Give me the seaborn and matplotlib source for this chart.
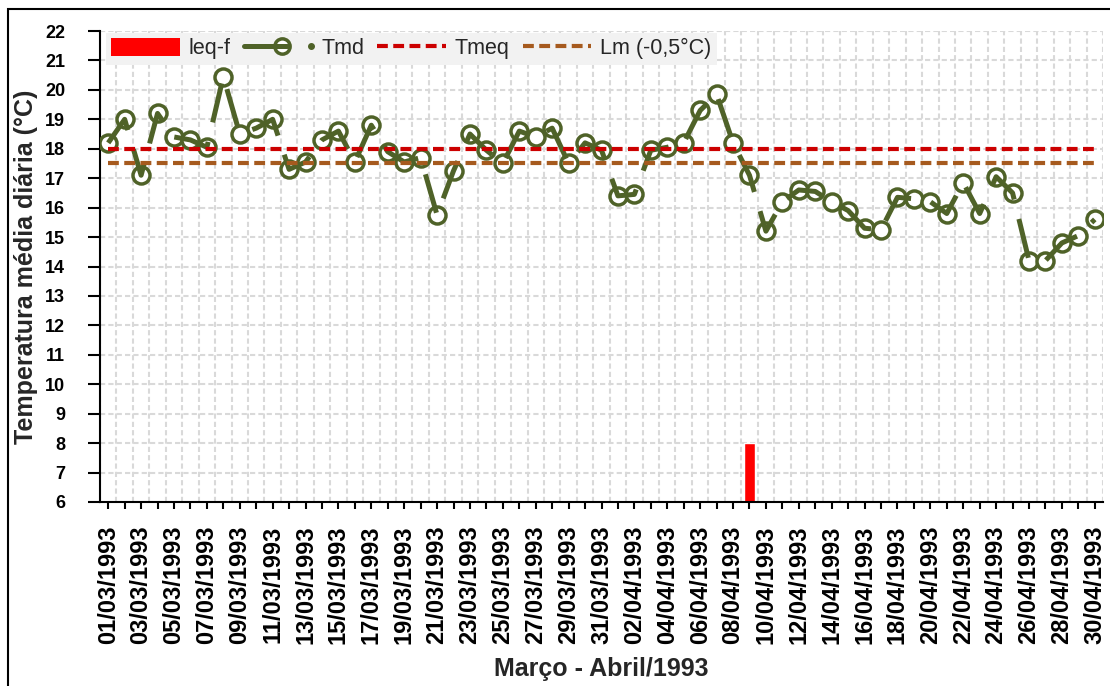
import numpy as np
import pandas as pd
import matplotlib
matplotlib.use('Agg')
import matplotlib.pyplot as plt
from matplotlib.lines import Line2D
from matplotlib.patches import Patch, Rectangle
from matplotlib.legend_handler import HandlerBase
import seaborn as sns

# Daily values, March - April 1993
days = pd.date_range('1993-03-01', '1993-04-30', freq='D').strftime('%d/%m/%Y').tolist()

tmd = [18.2, 19.0, 17.1, 19.2, 18.4, 18.3, 18.05, 20.45, 18.5, 18.7,
       19.0, 17.3, 17.55, 18.3, 18.6, 17.55, 18.8, 17.9, 17.55, 17.7,
       15.75, 17.25, 18.5, 17.95, 17.5, 18.6, 18.4, 18.7, 17.5, 18.2, 17.95,
       16.4, 16.45, 17.95, 18.05, 18.2, 19.3, 19.85, 18.2, 17.1, 15.2,
       16.2, 16.6, 16.55, 16.2, 15.9, 15.3, 15.25, 16.35, 16.3, 16.2,
       15.8, 16.85, 15.8, 17.05, 16.5, 14.2, 14.2, 14.8, 15.05, 15.6]
tmeq = 18.0
lm = 17.5
leq_day = '09/04/1993'
leq_value = 8.0

leq_f = [leq_value if d == leq_day else 0.0 for d in days]

df = pd.DataFrame({'pos': np.arange(len(days)), 'dia': days, 'tmd': tmd,
                   'leq_f': leq_f, 'tmeq': tmeq, 'lm': lm})

GREEN = '#4F6228'
RED = '#CC0000'
BROWN = '#A65A1E'
GRID = '#D9D9D9'

sns.set_style('white')
plt.rcParams['font.family'] = ['Liberation Sans', 'DejaVu Sans']

fig = plt.figure(figsize=(11.1, 6.86), dpi=100)
ax = fig.add_axes([100 / 1110, 1 - 502 / 686, 1003 / 1110, 471 / 686])

# leq-f bars
sns.barplot(data=df, x='pos', y='leq_f', color='#FF0000', saturation=1,
            width=0.72, native_scale=True, ax=ax, zorder=2)

# Tmd: hollow markers under a long-dash line
sns.scatterplot(data=df, x='pos', y='tmd', marker='o', s=150, color='white',
                edgecolor=GREEN, linewidth=2.5, zorder=3, ax=ax)
sns.lineplot(data=df, x='pos', y='tmd', color=GREEN, lw=3.6,
             linestyle=(0, (8.0, 4.0)), dash_capstyle='butt', zorder=4, ax=ax)

# reference lines
sns.lineplot(data=df, x='pos', y='tmeq', color=RED, lw=3,
             linestyle=(0, (2.6, 1.3)), dash_capstyle='butt', zorder=5, ax=ax)
sns.lineplot(data=df, x='pos', y='lm', color=BROWN, lw=3,
             linestyle=(0, (2.6, 1.3)), dash_capstyle='butt', zorder=5, ax=ax)

ax.set_xlim(-0.5, len(days) - 0.5)
ax.set_ylim(6, 22)
ax.set_yticks(range(6, 23))
ax.set_xticks(range(len(days)))
ax.set_xticklabels([d if i % 2 == 0 else '' for i, d in enumerate(days)],
                   rotation=90, fontsize=17, fontweight='bold')
ax.set_xticks(np.arange(-0.5, len(days), 1), minor=True)
for lbl in ax.get_yticklabels():
    lbl.set_fontweight('bold')
    lbl.set_fontsize(13)

ax.grid(False)
ax.yaxis.grid(True, which='major', color=GRID, lw=1.5, linestyle=(0, (2.5, 1.5)))
ax.xaxis.grid(True, which='minor', color=GRID, lw=1.5, linestyle=(0, (2.5, 1.5)))
ax.set_axisbelow(True)

ax.tick_params(axis='y', which='major', left=True, length=9, width=1.5, pad=16,
               direction='out', colors='black')
ax.tick_params(axis='x', which='major', bottom=True, length=5, width=1.5, pad=12,
               direction='out', colors='black')
ax.tick_params(axis='x', which='minor', bottom=False, length=0)

for side in ['top', 'right']:
    ax.spines[side].set_visible(False)
for side in ['left', 'bottom']:
    ax.spines[side].set_color('black')
    ax.spines[side].set_linewidth(1.5)

ax.set_xlabel('Março - Abril/1993', fontsize=18, fontweight='bold')
ax.set_ylabel('Temperatura média diária (°C)', fontsize=18, fontweight='bold')
ax.xaxis.set_label_coords(0.5, -0.33)
ax.yaxis.set_label_coords(-0.062, 0.5)


class LineCircleDot(HandlerBase):
    """Legend key: short line with hollow circle, then a small dot."""
    def create_artists(self, legend, orig_handle, xdescent, ydescent,
                       width, height, fontsize, trans):
        x0 = -xdescent
        y = (height - ydescent) / 2
        line = Line2D([x0, x0 + 0.62 * width], [y, y], color=GREEN, lw=3.6,
                      transform=trans)
        circ = Line2D([x0 + 0.55 * width], [y], ls='none', marker='o', ms=11,
                      mfc='white', mec=GREEN, mew=2.5, transform=trans)
        dot = Line2D([x0 + 0.97 * width], [y], ls='none', marker='o', ms=4,
                     color=GREEN, transform=trans)
        return [circ, line, dot]


h_leq = Patch(facecolor='#FF0000', edgecolor='none')
h_tmd = Line2D([], [], color=GREEN)
h_tmeq = Line2D([], [], color=RED, lw=3, ls=(0, (2.6, 1.3)))
h_lm = Line2D([], [], color=BROWN, lw=3, ls=(0, (2.6, 1.3)))

leg = ax.legend([h_leq, h_tmd, h_tmeq, h_lm],
                ['leq-f', 'Tmd', 'Tmeq', 'Lm (-0,5°C)'],
                ncol=4, loc='upper left', bbox_to_anchor=(0.006, 0.996),
                frameon=True, facecolor='#F2F2F2', edgecolor='none', framealpha=1,
                fancybox=False, prop={'size': 15.5}, handlelength=3.2,
                handleheight=0.85, handletextpad=0.4, columnspacing=0.6,
                borderpad=0.25, borderaxespad=0,
                handler_map={h_tmd: LineCircleDot()})
leg.set_zorder(10)

# outer chart frame
fig.add_artist(Rectangle((7.5 / 1110, -0.5), 2.0, 0.5 + (1 - 9 / 686),
                         transform=fig.transFigure, fill=False,
                         edgecolor='black', lw=1.5))

fig.savefig('out.png', dpi=100)
